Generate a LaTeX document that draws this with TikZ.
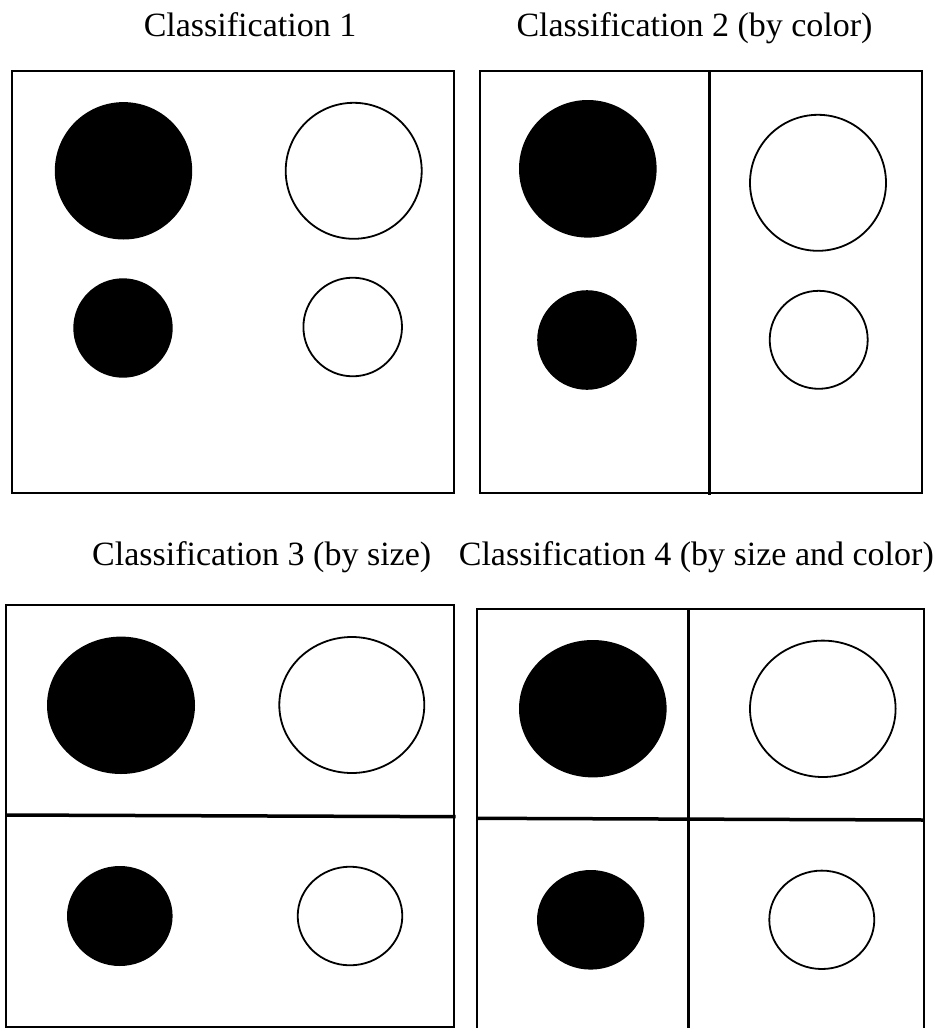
\documentclass[tikz,border=0pt]{standalone}
\usepackage{fontspec}
\setmainfont{Liberation Serif}
\usepackage{tikz}
\usetikzlibrary{positioning}
\definecolor{ink}{HTML}{000000}
\tikzset{
  panel/.style={draw=ink, line width=2pt},
  divider/.style={draw=ink, line width=3.5pt},
  filled/.style={fill=ink},
  hollow/.style={draw=ink, line width=1.8pt, fill=white},
  title/.style={anchor=base, inner sep=0pt, text=ink,
    font=\fontsize{34}{40}\selectfont},
}
\begin{document}
\begin{tikzpicture}[x=1pt,y=-1pt]
  \clip (0,0) rectangle (937,1028);
  \fill[white] (0,0) rectangle (937,1028);
  % titles
  \node[title] (t1) at (250,36) {Classification 1};
  \node[title] (t2) at (694.5,36) {Classification 2 (by color)};
  \node[title] (t3) at (261.7,565) {Classification 3 (by size)};
  \node[title] (t4) at (696.3,565) {Classification 4 (by size and color)};
  % panel 1
  \draw[panel] (12,71) rectangle (454,493);
  \fill[filled] (123.5,170.8) circle (68.7pt);
  \draw[hollow] (353.7,170.8) circle (68pt);
  \fill[filled] (123,328) circle (49.7pt);
  \draw[hollow] (352.7,327) circle (49.3pt);
  % panel 2
  \draw[panel] (480,71) rectangle (922,493.3);
  \draw[divider] (709.7,71) -- (709.7,495);
  \fill[filled] (587.8,168.8) circle (68.8pt);
  \draw[hollow] (818,182.8) circle (68pt);
  \fill[filled] (587,340) circle (49.8pt);
  \draw[hollow] (818.7,339.8) circle (49pt);
  % panel 3
  \draw[panel] (5.7,605) rectangle (454,1026.7);
  \draw[divider] (5.7,815) -- (455.7,816.7);
  \fill[filled] (121,705.3) circle [x radius=74pt, y radius=68.7pt];
  \draw[hollow] (351.8,705) circle [x radius=72.5pt, y radius=68pt];
  \fill[filled] (119.8,916) circle [x radius=52.8pt, y radius=50pt];
  \draw[hollow] (350,916) circle [x radius=52.3pt, y radius=49.3pt];
  % panel 4
  \draw[panel] (477.3,1040) -- (477.3,609) -- (924,609) -- (924,1040);
  \draw[divider] (688.3,609) -- (688.3,1040);
  \draw[divider] (477.3,818.3) -- (924,820);
  \fill[filled] (592.8,708.7) circle [x radius=73.8pt, y radius=68.7pt];
  \draw[hollow] (822.8,708.8) circle [x radius=72.8pt, y radius=68.2pt];
  \fill[filled] (590.7,919.8) circle [x radius=53.7pt, y radius=49.8pt];
  \draw[hollow] (821.8,919.8) circle [x radius=52.5pt, y radius=49.2pt];
\end{tikzpicture}
\end{document}
